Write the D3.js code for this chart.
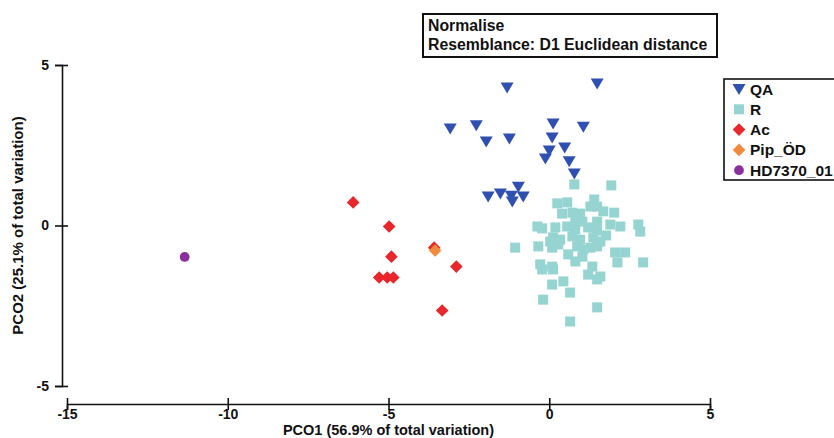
<!DOCTYPE html>
<html>
<head>
<meta charset="utf-8">
<script src="https://cdn.jsdelivr.net/npm/d3@7"></script>
<style>
  html, body { margin: 0; padding: 0; background: #fff; }
  svg { display: block; font-family: "Liberation Sans", Arial, sans-serif; }
</style>
</head>
<body>
<svg id="chart" width="834" height="438"></svg>
<script>
// PCO ordination scores, [PCO1, PCO2] per sample
const qaPoints = [
  [-1.31, 4.30], [1.49, 4.42], [-3.08, 3.02], [-2.27, 3.12], [-1.96, 2.62],
  [-1.24, 2.71], [0.12, 3.18], [1.06, 3.08], [0.09, 2.74], [0.48, 2.43],
  [0.00, 2.34], [-0.12, 2.09], [0.62, 2.00], [0.78, 1.62], [-1.90, 0.90],
  [-1.52, 1.00], [-0.96, 1.21], [-1.18, 0.93], [-0.81, 0.90], [-1.15, 0.75]
];
const rPoints = [
  [0.78, 1.28], [1.93, 1.25], [0.25, 0.69], [0.56, 0.72], [1.40, 0.81],
  [1.49, 0.59], [1.28, 0.59], [1.68, 0.44], [2.02, 0.40], [0.72, 0.40],
  [0.81, 0.12], [1.03, 0.12], [1.49, 0.12], [1.90, 0.03], [2.21, -0.03],
  [2.77, 0.03], [2.83, -0.19], [-0.37, -0.03], [-0.22, -0.09], [0.56, -0.03],
  [1.21, -0.06], [1.49, -0.16], [0.12, -0.37], [0.03, -0.50], [0.34, -0.44],
  [0.72, -0.34], [0.96, -0.44], [1.37, -0.37], [1.59, -0.50], [-0.34, -0.65],
  [-1.06, -0.69], [0.09, -0.69], [0.28, -0.59], [0.87, -0.65], [1.06, -0.75],
  [1.49, -0.65], [2.05, -0.84], [2.36, -0.84], [2.12, -1.15], [1.03, -0.97],
  [2.92, -1.15], [-0.28, -1.21], [-0.22, -1.37], [0.09, -1.28], [0.12, -1.37],
  [1.34, -1.28], [1.21, -1.53], [1.59, -1.59], [1.49, -1.68], [0.44, -1.74],
  [0.09, -1.84], [0.65, -2.09], [-0.19, -2.31], [1.49, -2.55], [0.65, -2.99],
  [0.40, 0.37], [0.96, 0.37], [0.19, -0.06], [0.81, -0.12], [1.28, -0.69],
  [0.59, -0.90], [0.81, -1.12], [1.77, -0.31]
];
const acPoints = [
  [-6.10, 0.72], [-4.98, -0.03], [-4.91, -0.97], [-5.29, -1.62], [-5.04, -1.62],
  [-4.85, -1.62], [-3.58, -0.69], [-2.89, -1.28], [-3.33, -2.65]
];
const pipPoints = [[-3.55, -0.78]];
const hdPoints = [[-11.34, -0.98]];

const xTicks = [-15, -10, -5, 0, 5];
const yTicks = [-5, 0, 5];
const xTitle = "PCO1 (56.9% of total variation)";
const yTitle = "PCO2 (25.1% of total variation)";
const noteLines = ["Normalise", "Resemblance: D1 Euclidean distance"];

const series = [
  { name: "R",         points: rPoints,   color: "#95d4d1", shape: "square" },
  { name: "QA",        points: qaPoints,  color: "#2f50b0", shape: "tri" },
  { name: "Ac",        points: acPoints,  color: "#e8262b", shape: "diamond" },
  { name: "Pip_ÖD",    points: pipPoints, color: "#f28a3e", shape: "diamond" },
  { name: "HD7370_01", points: hdPoints,  color: "#8b2f9f", shape: "circle" }
];
const legendOrder = ["QA", "R", "Ac", "Pip_ÖD", "HD7370_01"];

const shapePath = {
  tri: "M-6.5,-5L6.5,-5L0,6Z",
  square: "M-5,-5H5V5H-5Z",
  diamond: "M0,-6.3L6.3,0L0,6.3L-6.3,0Z",
  circle: d3.symbol(d3.symbolCircle, 75)()
};

const svg = d3.select("#chart");
const x = d3.scaleLinear().domain([-15, 5]).range([67, 710]);
const y = d3.scaleLinear().domain([-5, 5]).range([386, 65]);
const plain = d => String(d); // hyphen-minus labels

// Axes
const xAxis = svg.append("g")
  .attr("transform", "translate(0,404)")
  .call(d3.axisBottom(x).tickValues(xTicks).tickFormat(plain)
    .tickSizeOuter(0).tickSize(6).tickPadding(0));
xAxis.selectAll(".tick line").attr("y1", -6);
xAxis.selectAll(".tick text").attr("y", 5.5);
const yAxis = svg.append("g")
  .attr("transform", "translate(62,0)")
  .call(d3.axisLeft(y).tickValues(yTicks).tickFormat(plain)
    .tickSizeOuter(0).tickSize(7).tickPadding(6));
yAxis.selectAll(".tick line").attr("x1", 6);
svg.selectAll(".domain, .tick line").attr("stroke", "#111").attr("stroke-width", 1.6);
svg.selectAll(".tick text")
  .attr("fill", "#111")
  .attr("font-size", 14)
  .attr("font-weight", "bold")
  .attr("font-family", "'Liberation Sans', Arial, sans-serif");

svg.append("text")
  .attr("x", (x.range()[0] + x.range()[1]) / 2)
  .attr("y", 434.5)
  .attr("text-anchor", "middle")
  .attr("font-size", 14.5).attr("font-weight", "bold").attr("fill", "#111")
  .text(xTitle);
svg.append("text")
  .attr("transform", `translate(23,${y(0)}) rotate(-90)`)
  .attr("text-anchor", "middle")
  .attr("font-size", 15).attr("font-weight", "bold").attr("fill", "#111")
  .text(yTitle);

// Markers
series.forEach(s => {
  svg.append("g").selectAll("path")
    .data(s.points)
    .join("path")
    .attr("d", shapePath[s.shape])
    .attr("transform", d => `translate(${x(d[0])},${y(d[1])})`)
    .attr("fill", s.color);
});

// Note box
const note = svg.append("g");
note.append("rect")
  .attr("x", 423).attr("y", 14).attr("width", 294).attr("height", 43)
  .attr("fill", "#fff").attr("stroke", "#111").attr("stroke-width", 2);
note.selectAll("text")
  .data(noteLines)
  .join("text")
  .attr("x", 428)
  .attr("y", (d, i) => 31 + i * 19)
  .attr("font-size", 15.8).attr("font-weight", "bold").attr("fill", "#111")
  .text(d => d);

// Legend
const legend = svg.append("g");
legend.append("rect")
  .attr("x", 724).attr("y", 79).attr("width", 130).attr("height", 101)
  .attr("fill", "#fff").attr("stroke", "#111").attr("stroke-width", 1.6);
const byName = Object.fromEntries(series.map(s => [s.name, s]));
const item = legend.selectAll("g.item")
  .data(legendOrder.map(n => byName[n]))
  .join("g")
  .attr("class", "item")
  .attr("transform", (d, i) => `translate(739,${89 + i * 20.3})`);
item.append("path")
  .attr("d", d => shapePath[d.shape])
  .attr("fill", d => d.color);
item.append("text")
  .attr("x", 11).attr("dy", "0.36em")
  .attr("font-size", 15.5).attr("font-weight", "bold").attr("fill", "#111")
  .text(d => d.name);
</script>
</body>
</html>
